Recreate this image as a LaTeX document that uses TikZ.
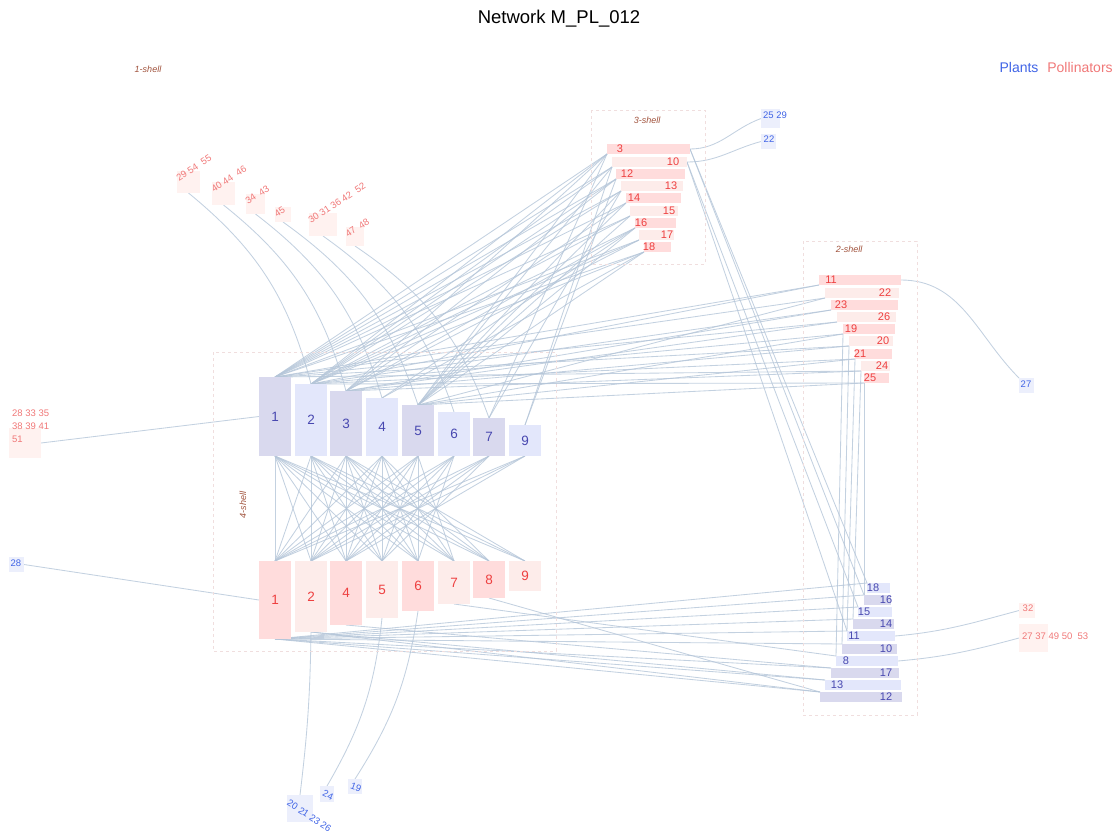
\documentclass[tikz,border=0pt]{standalone}
\usepackage{fontspec}
\setmainfont{Liberation Sans}
\usepackage{tikz}
\usetikzlibrary{positioning, calc}
\pgfdeclarelayer{back}
\pgfsetlayers{back,main}
\definecolor{plantD}{RGB}{217,217,238}
\definecolor{plantL}{RGB}{227,231,251}
\definecolor{pollD}{RGB}{255,220,220}
\definecolor{pollL}{RGB}{253,236,234}
\definecolor{plantTxt}{RGB}{72,72,176}
\definecolor{pollTxt}{RGB}{238,64,64}
\definecolor{linkC}{RGB}{180,197,216}
\definecolor{shellC}{RGB}{160,82,60}
\definecolor{shellBox}{RGB}{240,222,222}
\definecolor{oneP}{RGB}{255,242,240}
\definecolor{onePTxt}{RGB}{240,120,120}
\definecolor{onePl}{RGB}{236,239,252}
\definecolor{onePlTxt}{RGB}{64,100,230}

\begin{document}
\begin{tikzpicture}[x=1pt, y=1pt,
  bar/.style={rectangle, inner sep=0pt, outer sep=0pt},
  link/.style={draw=linkC, line width=0.85pt, draw opacity=0.8},
  shellbox/.style={draw=shellBox, dashed, line width=0.4pt},
  shelllab/.style={text=shellC, font=\fontsize{9}{9}\selectfont\itshape},
  bignum/.style={font=\fontsize{13.5}{13.5}\selectfont},
  smallnum/.style={font=\fontsize{11}{11}\selectfont, inner sep=0pt},
  onenum/.style={font=\fontsize{9.5}{13}\selectfont, inner sep=0pt}]
  \useasboundingbox (0,0) rectangle (1118,-833);

  \node[font=\fontsize{18.5}{18.5}\selectfont] (title) at (559,-19) {Network M\_PL\_012};
  \node[text=onePlTxt, font=\fontsize{14}{14}\selectfont] (legpl) at (1019,-67) {Plants};
  \node[text=onePTxt, font=\fontsize{14}{14}\selectfont] (legpo) at (1080,-67) {Pollinators};

  \draw[shellbox] (213,-352) rectangle (556,-651);
  \draw[shellbox] (591,-110) rectangle (705,-264);
  \draw[shellbox] (803,-241) rectangle (917,-715);
  \node[shelllab] (s1) at (148,-69) {1-shell};
  \node[shelllab] (s3) at (647,-120) {3-shell};
  \node[shelllab] (s2) at (849,-249) {2-shell};
  \node[shelllab, rotate=90] (s4) at (243,-505) {4-shell};

  % 4-shell
  \foreach \n/\xl/\yt/\c in {1/259/377/plantD, 2/295/384/plantL, 3/330/391/plantD, 4/366/398/plantL,
      5/402/405/plantD, 6/438/412/plantL, 7/473/418/plantD, 9/509/425/plantL}
    \node[bar, bignum, fill=\c, text=plantTxt, minimum width=32pt, minimum height={(456-\yt)*1pt}]
      (a\n) at ({\xl+16},{-(\yt+456)/2}) {\n};
  \foreach \n/\xl/\yb/\c in {1/259/639/pollD, 2/295/632/pollL, 4/330/625/pollD, 5/366/618/pollL,
      6/402/611/pollD, 7/438/604/pollL, 8/473/598/pollD, 9/509/591/pollL}
    \node[bar, bignum, fill=\c, text=pollTxt, minimum width=32pt, minimum height={(\yb-561)*1pt}]
      (b\n) at ({\xl+16},{-(\yb+561)/2}) {\n};

  % 3-shell
  \foreach \n/\xl/\xr/\yt/\lx/\c in {3/607/690/144/620/pollD, 10/612/687/157/673/pollL, 12/616/685/169/627/pollD,
      13/621/683/181/671/pollL, 14/626/681/193/634/pollD, 15/630/678/206/669/pollL,
      16/635/676/218/641/pollD, 17/639/674/230/667/pollL, 18/644/671/242/649/pollD} {
    \node[bar, fill=\c, minimum width={(\xr-\xl)*1pt}, minimum height=10pt] (c\n) at ({(\xl+\xr)/2},{-\yt-5}) {};
    \node[smallnum, text=pollTxt] (c\n t) at (\lx,{-\yt-5}) {\n};
  }

  % 2-shell
  \foreach \n/\xl/\xr/\yt/\lx/\c in {11/819/901/275/831/pollD, 22/825/899/288/885/pollL, 23/831/898/300/841/pollD,
      26/837/896/312/884/pollL, 19/843/895/324/851/pollD, 20/849/893/336/883/pollL,
      21/855/892/349/860/pollD, 24/861/890/361/882/pollL, 25/864/889/373/870/pollD} {
    \node[bar, fill=\c, minimum width={(\xr-\xl)*1pt}, minimum height=10pt] (d\n) at ({(\xl+\xr)/2},{-\yt-5}) {};
    \node[smallnum, text=pollTxt] (d\n t) at (\lx,{-\yt-5}) {\n};
  }
  \foreach \n/\xl/\xr/\yt/\lx/\c in {18/867/890/583/873/plantL, 16/864/891/595/886/plantD, 15/858/892/607/864/plantL,
      14/853/894/619/886/plantD, 11/847/895/631/854/plantL, 10/842/897/644/886/plantD,
      8/836/898/656/846/plantL, 17/831/899/668/886/plantD, 13/825/901/680/837/plantL, 12/820/902/692/886/plantD} {
    \node[bar, fill=\c, minimum width={(\xr-\xl)*1pt}, minimum height=10pt] (e\n) at ({(\xl+\xr)/2},{-\yt-5}) {};
    \node[smallnum, text=plantTxt] (e\n t) at (\lx,{-\yt-5}) {\n};
  }

  % 1-shell
  \foreach \n/\xl/\yt/\w/\h/\txt in {29/177/171/23/22/{29 54\ \ 55}, 40/212/182/23/23/{40 44\ \ 46}, 34/246/194/19/20/{34\ \ 43},
      45/275/207/16/15/{45}, 30/309/213/28/23/{30 31 36 42\ \ 52}, 47/346/227/18/19/{47\ \ 48}} {
    \node[bar, fill=oneP, minimum width={\w*1pt}, minimum height={\h*1pt}] (g\n) at ({\xl+\w/2},{-\yt-\h/2}) {};
    \node[onenum, text=onePTxt, rotate=33, anchor=south west] (g\n t) at ({\xl+2},{-\yt-11}) {\txt};
  }
  \node[bar, fill=oneP, minimum width=32pt, minimum height=30pt] (g28) at (25,-443) {};
  \node[onenum, text=onePTxt, align=left, anchor=north west] (g28t) at (12,-410) {28 33 35\\38 39 41\\51};
  \node[bar, fill=oneP, minimum width=16pt, minimum height=15pt] (g32) at (1027,-610.5) {};
  \node[onenum, text=onePTxt] (g32t) at (1028,-608) {32};
  \node[bar, fill=oneP, minimum width=29pt, minimum height=28pt] (g27) at (1033.5,-638) {};
  \node[onenum, text=onePTxt, anchor=west] (g27t) at (1022,-636) {27 37 49 50\ \ 53};

  \node[bar, fill=onePl, minimum width=15pt, minimum height=15pt] (h28) at (16.5,-564.5) {};
  \node[onenum, text=onePlTxt] (h28t) at (16,-563) {28};
  \node[bar, fill=onePl, minimum width=19pt, minimum height=19pt] (h25) at (770.5,-118.5) {};
  \node[onenum, text=onePlTxt, anchor=west] (h25t) at (763,-115) {25 29};
  \node[bar, fill=onePl, minimum width=15pt, minimum height=15pt] (h22) at (768.5,-141.5) {};
  \node[onenum, text=onePlTxt] (h22t) at (769,-139) {22};
  \node[bar, fill=onePl, minimum width=15pt, minimum height=15pt] (h27) at (1026.5,-385.5) {};
  \node[onenum, text=onePlTxt] (h27t) at (1026,-384) {27};
  \node[bar, fill=onePl, minimum width=26pt, minimum height=27pt] (h20) at (300,-808.5) {};
  \node[onenum, text=onePlTxt, rotate=-33, anchor=north west] (h20t) at (290,-799) {20 21 23 26};
  \node[bar, fill=onePl, minimum width=14pt, minimum height=16pt] (h24) at (327,-794) {};
  \node[onenum, text=onePlTxt, rotate=-25] (h24t) at (328,-795) {24};
  \node[bar, fill=onePl, minimum width=14pt, minimum height=15pt] (h19) at (355,-786.5) {};
  \node[onenum, text=onePlTxt, rotate=-20] (h19t) at (356,-787) {19};

  \begin{pgfonlayer}{back}
    \foreach \p/\qs in {a1/{b1,b2,b4,b5,b6,b7,b8,b9}, a2/{b1,b2,b4,b5,b6,b7,b8,b9}, a3/{b1,b2,b4,b5,b6,b7,b8,b9},
        a4/{b1,b2,b4,b5,b6,b7,b8}, a5/{b1,b2,b4,b5,b6,b7}, a6/{b1,b2,b4,b5,b6}, a7/{b1,b2,b4,b5}, a9/{b1,b2,b4}}
      \foreach \q in \qs
        \draw[link] (\p.south) -- (\q.north);
    \foreach \c/\ps in {c3/{a1,a2,a3,a5,a7}, c10/{a1,a2,a5,a9}, c12/{a1,a2,a3,a9}, c13/{a1,a2,a5,a7},
        c14/{a1,a3,a5}, c15/{a1,a2,a5}, c16/{a2,a3,a4,a5}, c17/{a1,a2,a3}, c18/{a1,a2,a4,a5}}
      \foreach \p in \ps
        \draw[link] (\p.north) -- (\c.south west);
    \foreach \d/\ps in {d11/{a1,a2}, d22/{a1,a5}, d23/{a2,a3}, d26/{a1,a3}, d19/{a2,a5},
        d20/{a1,a3}, d21/{a2,a5}, d24/{a1,a3}, d25/{a2,a5}}
      \foreach \p in \ps
        \draw[link] (\p.north) -- (\d.south west);
    \foreach \d/\e in {d19/e8, d20/e10, d21/e11, d24/e14, d25/e16}
      \draw[link] (\d.south west) -- (\e.north west);
    \foreach \b/\es in {b1/{e18,e16,e15,e14,e11,e10,e17,e13,e12}, b2/{e13,e12}, b4/{e17}, b7/{e8}, b8/{e12}}
      \foreach \e in \es
        \draw[link] (\b.south) -- (\e.north west);
    \foreach \c/\es in {c3/{e18,e16}, c10/{e15,e11}}
      \foreach \e in \es
        \draw[link] (\c.east) -- (\e.north west);

    \foreach \g/\a in {g29/a2, g40/a3, g34/a4, g45/a5, g30/a6, g47/a7}
      \draw[link] (\g.south) to[bend left=18] (\a.north);
    \draw[link] (g28.east) -- (a1.west);
    \draw[link] (h28.east) -- (b1.west);
    \draw[link] (c3.east) to[out=0, in=200] (h25.west);
    \draw[link] (c10.east) to[out=0, in=195] (h22.west);
    \draw[link] (d11.east) to[out=0, in=135] (h27.north west);
    \draw[link] (e11.east) to[out=5, in=195] (g32.west);
    \draw[link] (e8.east) to[out=5, in=195] (g27.west);
    \draw[link] (b2.south) to[bend left=3] (h20.north);
    \draw[link] (b5.south) to[bend left=12] (h24.north);
    \draw[link] (b6.south) to[bend left=12] (h19.north);
  \end{pgfonlayer}
\end{tikzpicture}
\end{document}
